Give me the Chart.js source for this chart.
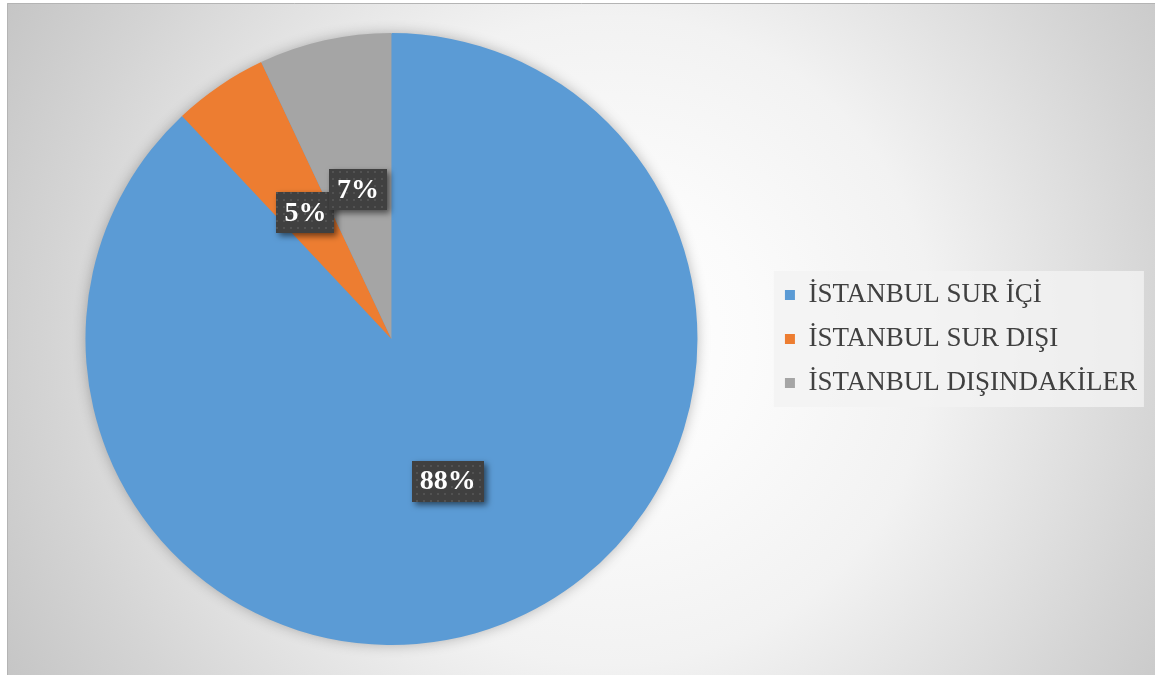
<!DOCTYPE html>
<html>
<head>
<meta charset="utf-8">
<script src="https://cdn.jsdelivr.net/npm/chart.js@4.4.0/dist/chart.umd.min.js"></script>
<style>
    html, body { margin: 0; padding: 0; background: #fff; overflow: hidden; }
    #wrap { position: relative; width: 1155px; height: 675px; }
</style>
</head>
<body>
<div id="wrap"><canvas id="pie-chart" width="1155" height="675"></canvas></div>
<script>
var labels = ['İSTANBUL SUR İÇİ', 'İSTANBUL SUR DIŞI', 'İSTANBUL DIŞINDAKİLER'];
var values = [88, 5, 7];
var colors = ['#5b9bd5', '#ed7d31', '#a5a5a5'];

// dotted fill used by the excel style data labels
function makePattern(ctx) {
    var c = document.createElement('canvas');
    c.width = 7;
    c.height = 7;
    var p = c.getContext('2d');
    p.fillStyle = '#404040';
    p.fillRect(0, 0, 7, 7);
    p.fillStyle = '#525252';
    p.fillRect(3, 3, 2, 2);
    return ctx.createPattern(c, 'repeat');
}

var backgroundPlugin = {
    id: 'background',
    afterLayout: function (chart) {
        // pull the legend a bit closer to the pie, like excel does
        var lg = chart.legend;
        if (lg) {
            lg.left -= 8;
            lg.right -= 8;
        }
    },
    beforeDraw: function (chart) {
        var ctx = chart.ctx;
        ctx.save();
        ctx.fillStyle = '#fff';
        ctx.fillRect(0, 0, chart.width, chart.height);
        var g = ctx.createRadialGradient(610, 340, 0, 610, 340, 720);
        g.addColorStop(0, '#ffffff');
        g.addColorStop(0.2, '#fbfbfb');
        g.addColorStop(0.45, '#f2f2f2');
        g.addColorStop(0.78, '#d4d4d4');
        g.addColorStop(1, '#c2c2c2');
        ctx.fillStyle = g;
        ctx.fillRect(7, 3, chart.width - 7, chart.height - 3);
        ctx.strokeStyle = '#b4b4b4';
        ctx.lineWidth = 1;
        ctx.beginPath();
        ctx.moveTo(7.5, chart.height);
        ctx.lineTo(7.5, 3.5);
        ctx.lineTo(chart.width, 3.5);
        ctx.stroke();

        // legend panel
        var lg = chart.legend;
        if (lg) {
            var cy = (lg.top + lg.bottom) / 2;
            ctx.fillStyle = 'rgba(242,242,242,0.8)';
            ctx.fillRect(lg.left + 6, cy - 68, 370, 136);
        }
        ctx.restore();
    },
    beforeDatasetsDraw: function (chart) {
        // soft shadow round the whole pie
        var arc = chart.getDatasetMeta(0).data[0];
        if (!arc) return;
        var ctx = chart.ctx;
        ctx.save();
        ctx.shadowColor = 'rgba(0,0,0,0.3)';
        ctx.shadowBlur = 14;
        ctx.fillStyle = colors[0];
        ctx.beginPath();
        ctx.arc(arc.x, arc.y, arc.outerRadius - 1, 0, Math.PI * 2);
        ctx.fill();
        ctx.restore();
    }
};

var labelPlugin = {
    id: 'pctLabels',
    afterDatasetsDraw: function (chart) {
        var ctx = chart.ctx;
        var meta = chart.getDatasetMeta(0);
        var total = values.reduce(function (a, b) { return a + b; }, 0);
        var pattern = makePattern(ctx);
        meta.data.forEach(function (arc, i) {
            var p = arc.getProps(['x', 'y', 'startAngle', 'endAngle', 'outerRadius'], true);
            var mid = (p.startAngle + p.endAngle) / 2;
            var r = p.outerRadius * 0.5;
            var x = p.x + Math.cos(mid) * r;
            var y = p.y + Math.sin(mid) * r;
            var text = Math.round(values[i] / total * 100) + '%';
            ctx.save();
            ctx.font = 'bold 28px "Liberation Serif", "Times New Roman", serif';
            var w = ctx.measureText(text).width + 16;
            var h = 41;
            ctx.shadowColor = 'rgba(0,0,0,0.55)';
            ctx.shadowBlur = 6;
            ctx.shadowOffsetX = 3;
            ctx.shadowOffsetY = 3;
            ctx.fillStyle = pattern;
            ctx.fillRect(Math.round(x - w / 2), Math.round(y - h / 2), Math.round(w), h);
            ctx.shadowColor = 'transparent';
            ctx.fillStyle = '#ffffff';
            ctx.textAlign = 'center';
            ctx.textBaseline = 'middle';
            ctx.fillText(text, x, y + 1);
            ctx.restore();
        });
    }
};

var ctx = document.getElementById('pie-chart').getContext('2d');
var pie = new Chart(ctx, {
    type: 'pie',
    data: {
        labels: labels,
        datasets: [{
            data: values,
            backgroundColor: colors,
            borderWidth: 0
        }]
    },
    options: {
        responsive: false,
        animation: false,
        devicePixelRatio: 1,
        layout: {
            padding: { left: 7, top: 33, bottom: 30, right: 0 }
        },
        plugins: {
            tooltip: { enabled: false },
            legend: {
                position: 'right',
                labels: {
                    boxWidth: 10,
                    boxHeight: 10,
                    padding: 17,
                    color: '#404040',
                    font: { family: '"Liberation Serif", "Times New Roman", serif', size: 27 }
                }
            }
        }
    },
    plugins: [backgroundPlugin, labelPlugin]
});
</script>
</body>
</html>
